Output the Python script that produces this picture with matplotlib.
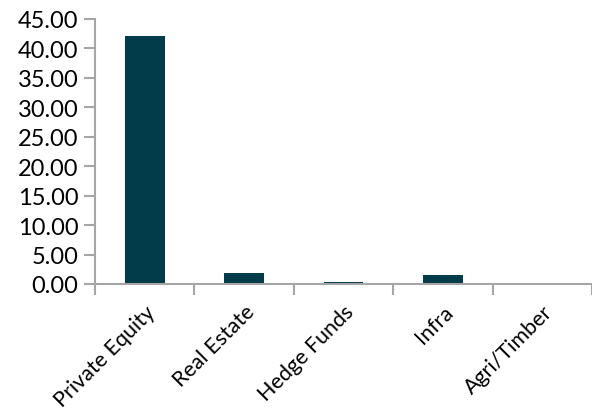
import matplotlib
matplotlib.use("Agg")
import matplotlib.pyplot as plt

# Werte
categories = ["Private Equity", "Real Estate", "Hedge Funds", "Infra", "Agri/Timber"]
values = [42.1, 1.85, 0.3, 1.45, 0.15]
y_ticks = [0, 5, 10, 15, 20, 25, 30, 35, 40, 45]

bar_color = "#023B4A"
axis_color = "#A6A6A6"

plt.rcParams["font.family"] = ["Lato", "DejaVu Sans"]

fig = plt.figure(figsize=(5.92, 4.10), dpi=100)
ax = fig.add_axes([95 / 592, 1 - 285 / 410, 1 - 95 / 592, (285 - 20) / 410])

positions = range(len(categories))
ax.bar(positions, values, width=0.4, color=bar_color)

ax.set_xlim(-0.5, 4.47)
ax.set_ylim(0, 45)
ax.set_yticks(y_ticks)
ax.set_yticklabels([f"{v:.2f}" for v in y_ticks], fontsize=17)

ax.set_xticks([p - 0.5 for p in positions] + [4.5])
ax.set_xticklabels([])
ax.set_xticks(list(positions), minor=True)
ax.set_xticklabels(categories, minor=True, rotation=45, ha="right",
                   rotation_mode="anchor", fontsize=15.5)
ax.tick_params(axis="x", which="minor", length=0, pad=12.5)
ax.tick_params(axis="x", which="major", length=8, color=axis_color, width=1.5)
ax.tick_params(axis="y", length=8, color=axis_color, width=1.5, pad=4)

for side in ["top", "right"]:
    ax.spines[side].set_visible(False)
for side in ["left", "bottom"]:
    ax.spines[side].set_color(axis_color)
    ax.spines[side].set_linewidth(1.5)

fig.savefig("out.png", dpi=100)
